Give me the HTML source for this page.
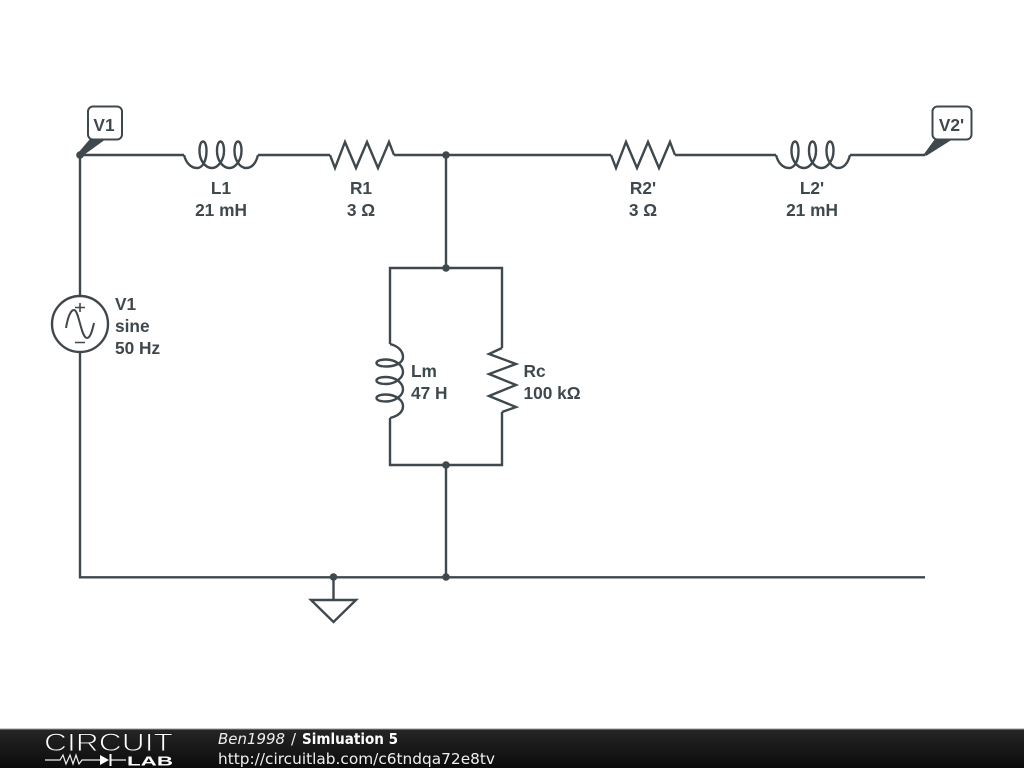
<!DOCTYPE html>
<html><head><meta charset="utf-8"><style>
html,body{margin:0;padding:0;background:#fff;width:1024px;height:768px;overflow:hidden}
svg{display:block}
.l{font:bold 17.3px "Liberation Sans",sans-serif;fill:#3f484d}
.w{fill:none;stroke:#3f484d;stroke-width:2.4;stroke-linejoin:miter}
.f{font-family:"DejaVu Sans",sans-serif;font-size:15px;fill:#eee}
</style></head><body>
<svg width="1024" height="768" viewBox="0 0 1024 768">
<defs>
<linearGradient id="g" x1="0" y1="0" x2="0" y2="1"><stop offset="0" stop-color="#262626"/><stop offset="1" stop-color="#0b0b0b"/></linearGradient>
</defs>
<rect width="1024" height="768" fill="#fff"/>
<g class="w">
<path d="M80 155H184M258 155H330M394 155H611M675 155H776M850 155H925"/>
<path d="M80 155V296M80 352V577.300H925M446 155V268M446 465V577M333.500 577V600"/>
<path d="M390 344V268H502V348M502 412V465H390V418"/>
<path d="M184 155C186 163 191 168 197 168C203 168 206.500 160 206.500 151C206.500 145 205 141.500 203 141.500C201 141.500 199.500 145 199.500 151C199.500 160 205 168 212 168C218 168 224 160 224 151C224 145 222.500 141.500 220.500 141.500C218.500 141.500 217 145 217 151C217 160 222.500 168 229.500 168C235.500 168 241.500 160 241.500 151C241.500 145 240 141.500 238 141.500C236 141.500 234.500 145 234.500 151C234.500 160 240 168 246 168C252 168 256 163 258 155"/>
<path transform="translate(592 0)" d="M184 155C186 163 191 168 197 168C203 168 206.500 160 206.500 151C206.500 145 205 141.500 203 141.500C201 141.500 199.500 145 199.500 151C199.500 160 205 168 212 168C218 168 224 160 224 151C224 145 222.500 141.500 220.500 141.500C218.500 141.500 217 145 217 151C217 160 222.500 168 229.500 168C235.500 168 241.500 160 241.500 151C241.500 145 240 141.500 238 141.500C236 141.500 234.500 145 234.500 151C234.500 160 240 168 246 168C252 168 256 163 258 155"/>
<path transform="matrix(0 1 1 0 235 160)" d="M184 155C186 163 191 168 197 168C203 168 206.500 160 206.500 151C206.500 145 205 141.500 203 141.500C201 141.500 199.500 145 199.500 151C199.500 160 205 168 212 168C218 168 224 160 224 151C224 145 222.500 141.500 220.500 141.500C218.500 141.500 217 145 217 151C217 160 222.500 168 229.500 168C235.500 168 241.500 160 241.500 151C241.500 145 240 141.500 238 141.500C236 141.500 234.500 145 234.500 151C234.500 160 240 168 246 168C252 168 256 163 258 155"/>
<path d="M330 155L335 168L345 142L356 168L367 142L378 168L389 142L394 155"/>
<path d="M611 155L616 168L626 142L637 168L648 142L659 168L670 142L675 155"/>
<path d="M502 348L489 354L516 364L489 374L516 385L489 396L516 407L502 412"/>
<circle cx="80" cy="324" r="28"/>
<path d="M66 328C68 316 71 310 74 310C79 310 81 338 87 338C90 338 92 332 94 323" stroke-width="2"/>
<path d="M75 307.500H85M80 303V312M75 342.500H85" stroke-width="1.600"/>
<path d="M311 600H356L333.500 622Z"/>
<rect x="88" y="106.500" width="34" height="33" rx="5" stroke-width="2"/>
<rect x="932.500" y="106.500" width="39" height="33" rx="5" stroke-width="2"/>
</g>
<g fill="#3f484d">
<path d="M90 139H106L81 157L78 153Z"/>
<path d="M935 139H953L926 156L924 154Z"/>
<circle cx="80" cy="155" r="3.800"/>
<circle cx="446" cy="155" r="3.800"/>
<circle cx="446" cy="268" r="3.800"/>
<circle cx="446" cy="465" r="3.800"/>
<circle cx="446" cy="577" r="3.800"/>
<circle cx="333.500" cy="577" r="3.800"/>
</g>
<g class="l">
<text x="104" y="131" text-anchor="middle">V1</text>
<text x="951.500" y="131" text-anchor="middle">V2'</text>
<text x="221" y="194" text-anchor="middle">L1</text>
<text x="221" y="216" text-anchor="middle">21 mH</text>
<text x="361" y="194" text-anchor="middle">R1</text>
<text x="361" y="216" text-anchor="middle">3 Ω</text>
<text x="643" y="194" text-anchor="middle">R2'</text>
<text x="643" y="216" text-anchor="middle">3 Ω</text>
<text x="812" y="194" text-anchor="middle">L2'</text>
<text x="812" y="216" text-anchor="middle">21 mH</text>
<text x="115" y="310">V1</text>
<text x="115" y="332">sine</text>
<text x="115" y="354">50 Hz</text>
<text x="411" y="377">Lm</text>
<text x="411" y="399">47 H</text>
<text x="523.500" y="377">Rc</text>
<text x="523.500" y="399">100 kΩ</text>
</g>
<rect y="729" width="1024" height="39" fill="url(#g)"/>
<rect y="728.500" width="1024" height="1" fill="#9a9a9a"/>
<text x="44" y="751" font-family="'Liberation Sans',sans-serif" font-size="25" fill="#fff" stroke="#1c1c1c" stroke-width="0.900" textLength="129" lengthAdjust="spacingAndGlyphs">CIRCUIT</text>
<path d="M45 760H60L63 755L66 764L70 755L73 764L76 755L79 764L82 760H100M111 760H126" fill="none" stroke="#eee" stroke-width="1.200"/>
<path d="M100 755L109 760L100 765Z" fill="#fff"/>
<path d="M110.500 754V766" stroke="#fff" stroke-width="2"/>
<text x="127" y="765.500" font-family="'Liberation Sans',sans-serif" font-weight="bold" font-size="13" fill="#fff" textLength="46" lengthAdjust="spacingAndGlyphs">LAB</text>
<text class="f" x="218" y="744" style="font-style:italic" textLength="67" lengthAdjust="spacingAndGlyphs">Ben1998</text>
<text class="f" x="291" y="744">/</text>
<text class="f" x="302" y="744" style="font-weight:bold;fill:#fff" textLength="96" lengthAdjust="spacingAndGlyphs">Simluation 5</text>
<text class="f" x="218" y="764" textLength="277" lengthAdjust="spacingAndGlyphs">http://circuitlab.com/c6tndqa72e8tv</text>
</svg>
</body></html>
